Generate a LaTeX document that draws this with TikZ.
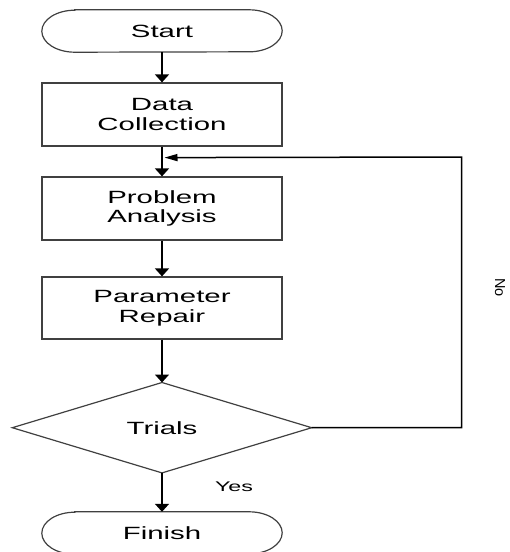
\documentclass[tikz,border=0pt]{standalone}
\usepackage{fontspec}
\setmainfont{Liberation Sans}
\newfontfamily\breitfont[FakeStretch=1.66]{Liberation Sans}
\usetikzlibrary{arrows.meta,calc}
\tikzset{
  schrift/.style={font=\breitfont\fontsize{17.7}{19.5}\selectfont},
  kasten/.style={schrift,draw=black!75,line width=1.2pt,minimum width=240pt,minimum height=62pt,inner sep=0pt,align=center},
  terminal/.style={schrift,minimum width=240pt,minimum height=42pt,inner sep=0pt},
  entscheid/.style={schrift,minimum width=299pt,minimum height=90pt,inner sep=0pt},
  rahmen/.style={draw=black!75,line width=1.2pt},
  pfeil/.style={line width=1.5pt,-{Triangle[width=14pt,length=8pt]}},
  pfeilh/.style={line width=1.5pt,-{Triangle[width=7pt,length=13pt]}}
}
\begin{document}
\begin{tikzpicture}[x=1pt,y=1pt]
\useasboundingbox (0,0) rectangle (510,-552);
%Ablauf von oben nach unten
\node[terminal] (start) at (162,-31) {Start};
\node[kasten,minimum height=63pt] (daten) at (162,-114.5) {Data\\Collection};
\node[kasten,minimum height=63pt] (analyse) at (162,-208.5) {Problem\\Analysis};
\node[kasten] (reparatur) at (162,-308) {Parameter\\Repair};
\node[entscheid] (versuch) at (162,-427.7) {Trials};
\node[terminal] (ende) at (162,-533) {Finish};
%Umrisse der Start/Ende-Felder und der Raute
\foreach \n in {start,ende}{
\draw[rahmen] ([xshift=33pt]\n.north west) -- ([xshift=-33pt]\n.north east) arc[start angle=90,end angle=-90,x radius=33pt,y radius=21pt] -- ([xshift=33pt]\n.south west) arc[start angle=270,end angle=90,x radius=33pt,y radius=21pt] -- cycle;
}
\draw[rahmen] (versuch.north) -- (versuch.east) -- (versuch.south) -- (versuch.west) -- cycle;
%Pfeile
\draw[pfeil] (start) -- (daten);
\draw[pfeil] (daten) -- (analyse);
\draw[pfeil] (analyse) -- (reparatur);
\draw[pfeil] (reparatur) -- (versuch.north);
\draw[pfeil] (versuch.south) -- (ende.north);
\coordinate (rueck) at ($(daten.south)+(2.5,-11)$);
\draw[pfeilh] (versuch.east) -| (461.7,-157) -- (rueck);
\node[font=\breitfont\fontsize{14}{16}\selectfont] (ja) at (234,-487) {Yes};
\node[rotate=-90,font=\fontsize{14.5}{16}\selectfont] (nein) at (500,-287.5) {No};
\end{tikzpicture}
\end{document}
